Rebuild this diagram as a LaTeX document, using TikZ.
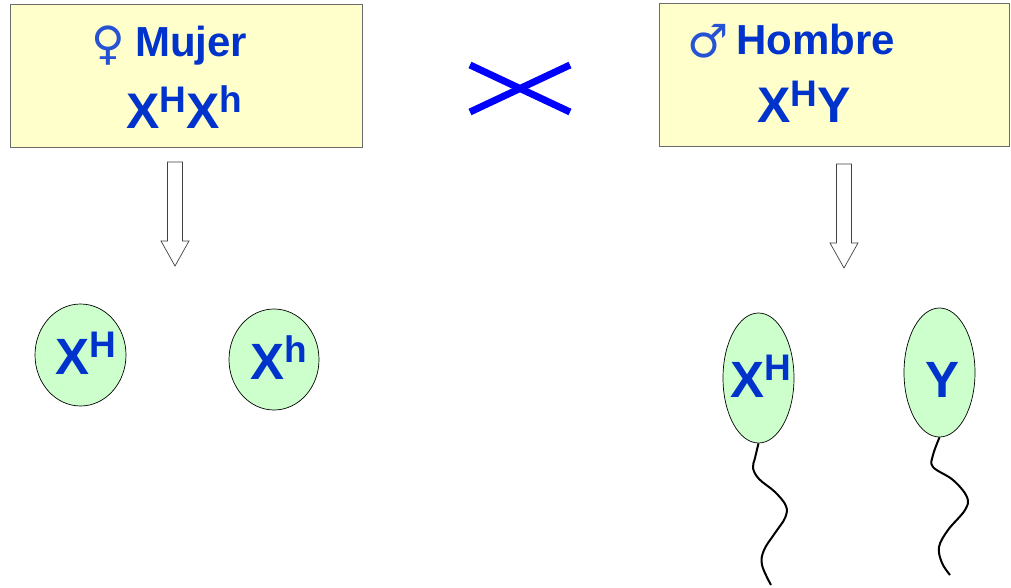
\documentclass[tikz,border=0pt]{standalone}
\usepackage{fontspec}
\setmainfont{Liberation Sans}
\newfontfamily\symfont{DejaVu Sans}
\usetikzlibrary{shapes.geometric}
\definecolor{boxfill}{HTML}{FFFFCC}
\definecolor{boxline}{HTML}{6B6B6B}
\definecolor{cellfill}{HTML}{CCFFCC}
\definecolor{gene}{HTML}{0033CC}
\definecolor{crossblue}{HTML}{0000FF}
% raised allele letter after a chromosome letter
\newcommand\allele[1]{\raisebox{0.33em}{\fontsize{37}{37}\selectfont #1}}
\begin{document}
\begin{tikzpicture}[x=1pt,y=-1pt,
  parent/.style={draw=boxline, fill=boxfill, line width=1.2pt, inner sep=0, anchor=north west},
  gamete/.style={ellipse, draw=black, fill=cellfill, line width=0.7pt, inner sep=0},
  gtext/.style={text=gene, inner sep=0, anchor=base west},
  title/.style={gtext, font=\fontsize{42}{42}\selectfont\bfseries},
  genotype/.style={gtext, font=\fontsize{50}{50}\selectfont\bfseries},
  cellgene/.style={gtext, font=\fontsize{51}{51}\selectfont\bfseries},
  sex/.style={text=gene!85!white, inner sep=0, font=\fontsize{46}{46}\selectfont\symfont},
  hollow/.style={draw=black!75, fill=white, line width=0.7pt},
  crossline/.style={draw=crossblue, line width=7pt},
  tail/.style={draw=black, line width=2pt}
]
\useasboundingbox (0,0) rectangle (1011,588);

% parents
\node[parent, minimum width=352, minimum height=143] (mom) at (10,4) {};
\node[parent, minimum width=350, minimum height=143] (dad) at (659,3) {};

\node[sex] (venus) at (108,46) {♀};
\node[title] (mujer) at (135,57) {Mujer};
\node[genotype] (momg) at (126,129) {X\allele{H}X\allele{h}};

\node[sex] (mars) at (708,41) {♂};
\node[title] (hombre) at (736,55) {Hombre};
\node[genotype] (dadg) at (757,123) {X\allele{H}Y};

% cross sign
\coordinate (c1) at (470,65);
\coordinate (c2) at (570,65);
\coordinate (c3) at (470,112);
\coordinate (c4) at (570,112);
\draw[crossline] (c1) -- (c4);
\draw[crossline] (c3) -- (c2);

% hollow arrows
\coordinate (ma) at (175,162);
\coordinate (da) at (844,164);
\foreach \a in {ma,da}
  \draw[hollow, shift={(\a)}] (-7.5,0) -- (7.5,0) -- (7.5,79) -- (14,79)
    -- (0,104) -- (-14,79) -- (-7.5,79) -- cycle;

% eggs
\node[gamete, minimum width=91, minimum height=102] (egg1) at (80.5,355) {};
\node[gamete, minimum width=90, minimum height=101] (egg2) at (274,359.5) {};
\node[cellgene] (egg1g) at (55,374) {X\allele{H}};
\node[cellgene] (egg2g) at (250,379) {X\allele{h}};

% sperm
\node[gamete, minimum width=71, minimum height=130] (sp1) at (758.5,378) {};
\node[gamete, minimum width=71, minimum height=129] (sp2) at (939.5,372.5) {};
\node[cellgene] (sp1g) at (730,397) {X\allele{H}};
\node[cellgene] (sp2g) at (925,397) {Y};

\draw[tail] plot[smooth, tension=0.6] coordinates {(sp1.south) (755,458) (753,468)
  (759,479) (775,492) (786,506) (785,518) (775,533) (764,550) (762,565) (771,585)};
\draw[tail] plot[smooth, tension=0.6] coordinates {(sp2.south) (933,455) (933,467)
  (953,480) (967,497) (965,510) (948,530) (939,547) (942,563) (950,575)};
\end{tikzpicture}
\end{document}
